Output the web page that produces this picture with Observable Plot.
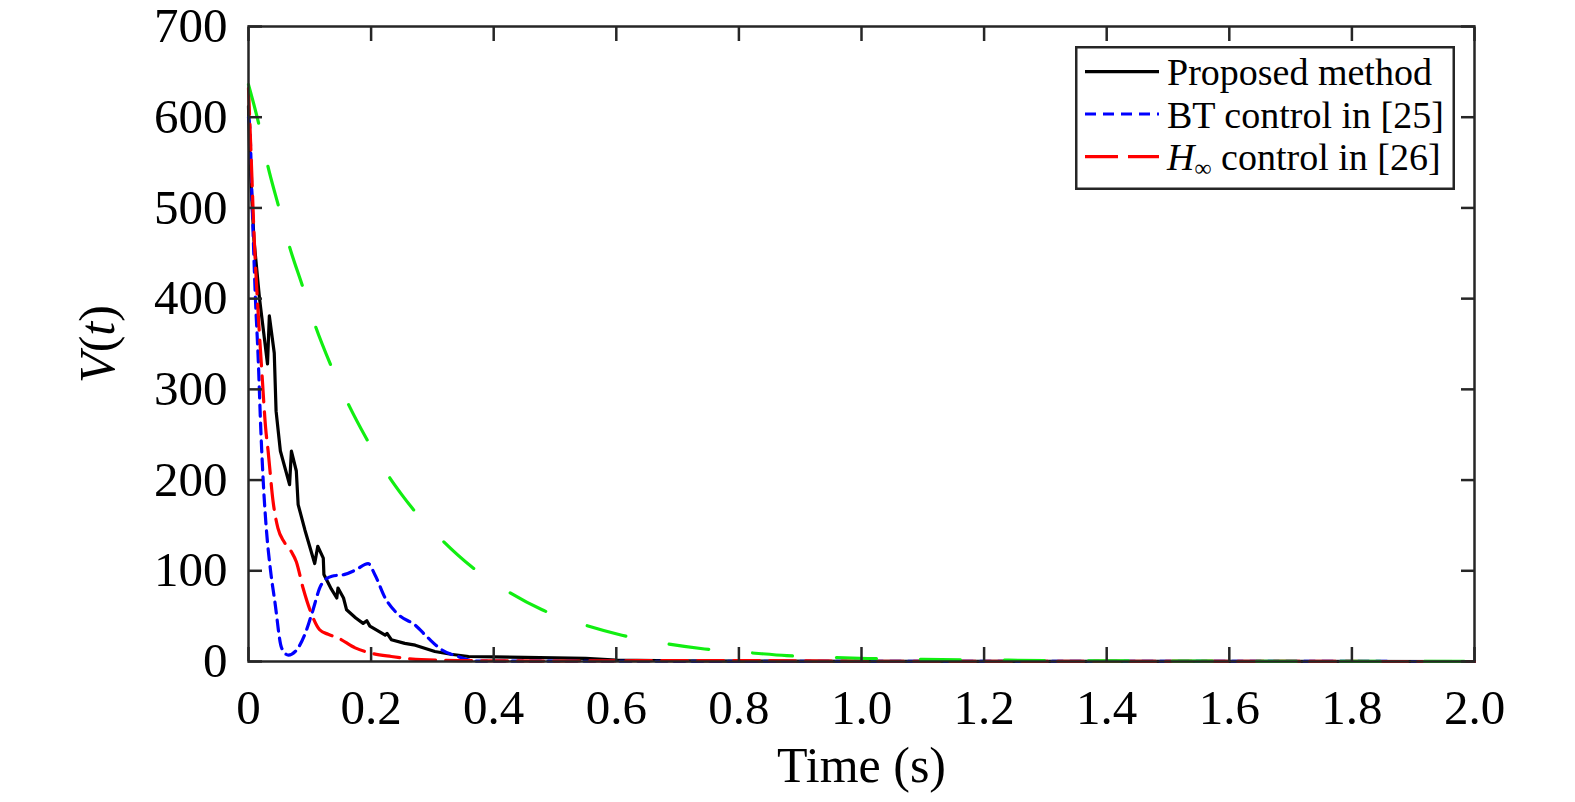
<!DOCTYPE html>
<html>
<head>
<meta charset="utf-8">
<script src="https://cdn.jsdelivr.net/npm/d3@7"></script>
<script src="https://cdn.jsdelivr.net/npm/@observablehq/plot@0.6"></script>
<style>
  html, body { margin: 0; padding: 0; background: #fff; }
  #wrap { position: relative; width: 1575px; height: 802px; font-family: "Liberation Serif", "Times New Roman", serif; }
  #legend { position: absolute; left: 1075px; top: 46px; }
</style>
</head>
<body>
<div id="wrap"></div>
<script>
// ---- Data ----
const xTicks = [0, 0.2, 0.4, 0.6, 0.8, 1.0, 1.2, 1.4, 1.6, 1.8, 2.0];
const yTicks = [0, 100, 200, 300, 400, 500, 600, 700];

const seriesNames = ["Proposed method", "BT control in [25]", "H∞ control in [26]"];

const proposedT = [0, 0.002, 0.009, 0.018, 0.031, 0.034, 0.042, 0.045, 0.052, 0.067, 0.070, 0.078, 0.081, 0.092, 0.108, 0.113, 0.122, 0.123, 0.135, 0.144, 0.146, 0.155, 0.160, 0.175, 0.187, 0.193, 0.198, 0.223, 0.226, 0.233, 0.255, 0.272, 0.304, 0.330, 0.359, 0.40, 0.45, 0.50, 0.55, 0.60, 0.70, 0.80, 1.0, 1.5, 2.0];
const proposedV = [612, 556, 464, 400, 328, 381, 340, 276, 232, 195, 232, 210, 173, 145, 108, 127, 114, 96, 80, 70, 81, 70, 57, 48, 42, 45, 39, 29, 31, 24, 20, 18, 11, 8, 5.5, 5, 4.5, 4, 3.5, 1.5, 0.8, 0.5, 0.3, 0.1, 0];

const btT = [0, 0.002, 0.0065, 0.011, 0.016, 0.020, 0.024, 0.029, 0.036, 0.043, 0.054, 0.065, 0.081, 0.092, 0.103, 0.119, 0.136, 0.157, 0.175, 0.195, 0.206, 0.223, 0.244, 0.272, 0.293, 0.315, 0.342, 0.37, 0.5, 1.0, 2.0];
const btV = [600, 590, 493, 405, 331, 257, 199, 147, 100, 66, 15, 7, 15, 30, 52, 85, 94, 96, 101, 108, 96, 70, 52, 40, 26, 13, 5.5, 0.5, 0.3, 0.2, 0];

const hinfT = [0, 0.005, 0.009, 0.014, 0.022, 0.028, 0.032, 0.040, 0.048, 0.058, 0.070, 0.078, 0.089, 0.103, 0.116, 0.130, 0.146, 0.174, 0.201, 0.233, 0.282, 0.35, 0.5, 0.7, 0.8, 1.0, 2.0];
const hinfV = [632, 544, 471, 405, 317, 257, 232, 177, 147, 132, 121, 110, 81, 52, 35, 30, 26, 15, 9, 5.5, 2, 1, 0.5, 1, 1, 0.3, 0];

const greenT = [0, 0.017, 0.032, 0.049, 0.067, 0.088, 0.109, 0.134, 0.162, 0.193, 0.228, 0.25, 0.266, 0.314, 0.363, 0.421, 0.479, 0.545, 0.609, 0.678, 0.744, 0.815, 0.878, 0.95, 1.01, 1.1, 1.2, 1.3, 1.4, 1.6, 1.8, 2.0];
const greenV = [636, 592, 545, 502, 457, 414, 370, 327, 285, 245, 205, 184, 170, 135, 105, 78, 57, 41, 29, 20, 13.8, 9.8, 6.5, 4.6, 3.3, 2.4, 1.7, 1.1, 0.7, 0.3, 0.1, 0.05];

const toRows = (T, V) => T.map((t, i) => ({t, v: V[i]}));
const proposed = toRows(proposedT, proposedV);
const bt = toRows(btT, btV);
const hinf = toRows(hinfT, hinfV);
const green = toRows(greenT, greenV);

const AX = "#262626";
const FONT = '"Liberation Serif", "Times New Roman", serif';
const fmtX = d => d === 0 ? "0" : d.toFixed(1);
const LW = 3.2;

const svg = Plot.plot({
  width: 1575,
  height: 802,
  marginLeft: 248,
  marginRight: 101,
  marginTop: 26,
  marginBottom: 141,
  style: {fontFamily: FONT, fontSize: "49px", background: "#fff", color: AX, overflow: "visible"},
  x: {domain: [0, 2]},
  y: {domain: [0, 700]},
  marks: [
    Plot.line(proposed, {x: "t", y: "v", stroke: "#000", strokeWidth: LW}),
    Plot.line(bt, {x: "t", y: "v", stroke: "#0000ff", strokeWidth: LW, strokeDasharray: "11,7", curve: "monotone-x"}),
    Plot.line(hinf, {x: "t", y: "v", stroke: "#ff0000", strokeWidth: LW, strokeDasharray: "26,10", curve: "monotone-x"}),
    Plot.line(green, {x: "t", y: "v", stroke: "#11ee11", strokeWidth: LW, strokeDasharray: "40,44", curve: "monotone-x"}),
    Plot.frame({stroke: AX, strokeWidth: 2.5}),
    Plot.axisX({ticks: xTicks, anchor: "bottom", tickSize: -14, tickFormat: () => "", label: null, stroke: AX, strokeWidth: 2.5}),
    Plot.axisX({ticks: xTicks, anchor: "top", tickSize: -14, tickFormat: () => "", label: null, stroke: AX, strokeWidth: 2.5}),
    Plot.axisY({ticks: yTicks, anchor: "left", tickSize: -14, tickFormat: () => "", label: null, stroke: AX, strokeWidth: 2.5}),
    Plot.axisY({ticks: yTicks, anchor: "right", tickSize: -14, tickFormat: () => "", label: null, stroke: AX, strokeWidth: 2.5}),
    Plot.axisX({ticks: xTicks, anchor: "bottom", tickSize: 0, tickPadding: 28, tickFormat: fmtX, label: null, fill: "#000", fontSize: 49}),
    Plot.axisY({ticks: yTicks, anchor: "left", tickSize: 0, tickPadding: 21, tickFormat: d => String(d), label: null, fill: "#000", fontSize: 49}),
    Plot.text(["Time (s)"], {text: d => d, frameAnchor: "bottom", dy: 104, lineAnchor: "middle", textAnchor: "middle", fontSize: 50, fill: "#000"}),
    Plot.text(["V(t)"], {text: d => d, frameAnchor: "left", dx: -151, rotate: -90, lineAnchor: "middle", textAnchor: "middle", fontSize: 50, fill: "#000"})
  ]
});

// italic V and t with upright parentheses
d3.select(svg).selectAll("text").filter(function() { return this.textContent === "V(t)"; }).each(function() {
  const t = d3.select(this);
  t.text(null);
  t.attr("text-anchor", "middle");
  t.append("tspan").attr("font-style", "italic").text("V");
  t.append("tspan").text("(");
  t.append("tspan").attr("font-style", "italic").text("t");
  t.append("tspan").text(")");
});

const wrap = document.getElementById("wrap");
wrap.appendChild(svg);

// Legend (overlaid inside the axes, top-right)
const legend = d3.select(wrap).append("svg")
  .attr("id", "legend")
  .attr("width", 380).attr("height", 144)
  .style("font-family", FONT);
legend.append("rect").attr("x", 1.25).attr("y", 1.25).attr("width", 377.5).attr("height", 141.5)
  .attr("fill", "#fff").attr("stroke", AX).attr("stroke-width", 2.5);
const legendStyles = [
  {stroke: "#000", dash: null},
  {stroke: "#0000ff", dash: "11,7"},
  {stroke: "#ff0000", dash: "33,10"}
];
const rowLineY = [25.7, 68, 110.7];
const rowBaseY = [39, 81.5, 124];
seriesNames.forEach((name, i) => {
  legend.append("line").attr("x1", 10).attr("x2", 84).attr("y1", rowLineY[i]).attr("y2", rowLineY[i])
    .attr("stroke", legendStyles[i].stroke).attr("stroke-width", LW)
    .attr("stroke-dasharray", legendStyles[i].dash);
  const tx = legend.append("text").attr("x", 92).attr("y", rowBaseY[i]).attr("font-size", 38).attr("fill", "#000");
  if (name.startsWith("H∞")) {
    tx.append("tspan").attr("font-style", "italic").text("H");
    tx.append("tspan").attr("font-size", 24).attr("dy", 6).text("∞");
    tx.append("tspan").attr("dy", -6).text(name.slice(2));
  } else {
    tx.text(name);
  }
});
</script>
</body>
</html>
